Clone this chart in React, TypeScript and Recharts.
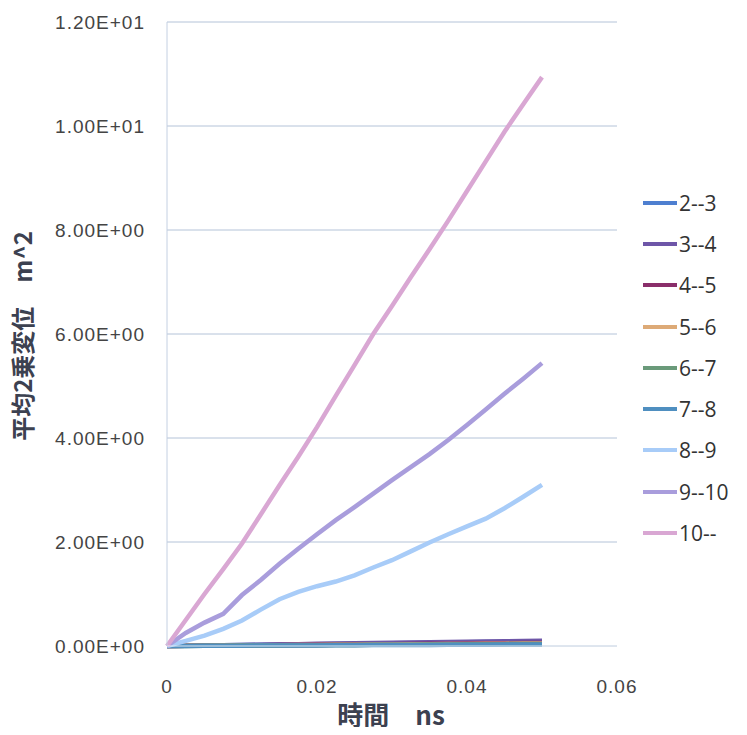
import { CartesianGrid, Label, Legend, Line, LineChart, XAxis, YAxis } from "recharts";

// time in ns
const times = [
  0, 0.0025, 0.005, 0.0075, 0.01, 0.0125, 0.015, 0.0175, 0.02, 0.0225, 0.025,
  0.0275, 0.03, 0.0325, 0.035, 0.0375, 0.04, 0.0425, 0.045, 0.0475, 0.05,
];

// mean square displacement per layer, m^2
const s2to3 = [0, 0.005, 0.01, 0.014, 0.018, 0.023, 0.027, 0.031, 0.036, 0.04, 0.045, 0.049, 0.053, 0.058, 0.062, 0.066, 0.071, 0.075, 0.079, 0.084, 0.088];
const s3to4 = [0, 0.006, 0.011, 0.016, 0.021, 0.026, 0.031, 0.036, 0.041, 0.046, 0.051, 0.056, 0.061, 0.066, 0.071, 0.076, 0.081, 0.086, 0.091, 0.096, 0.101];
const s4to5 = [0, 0.003, 0.006, 0.009, 0.012, 0.015, 0.018, 0.021, 0.024, 0.027, 0.03, 0.033, 0.036, 0.039, 0.042, 0.045, 0.048, 0.051, 0.054, 0.057, 0.06];
const s5to6 = [0, 0.003, 0.005, 0.008, 0.01, 0.013, 0.015, 0.018, 0.02, 0.023, 0.025, 0.028, 0.03, 0.033, 0.035, 0.038, 0.04, 0.043, 0.045, 0.048, 0.05];
const s6to7 = [0, 0.002, 0.004, 0.006, 0.008, 0.01, 0.012, 0.014, 0.016, 0.018, 0.02, 0.022, 0.024, 0.026, 0.028, 0.03, 0.032, 0.034, 0.036, 0.038, 0.04];
const s7to8 = [0, 0.002, 0.003, 0.005, 0.006, 0.008, 0.009, 0.011, 0.012, 0.014, 0.015, 0.017, 0.018, 0.02, 0.021, 0.023, 0.024, 0.026, 0.027, 0.029, 0.03];
const s8to9 = [0, 0.1, 0.2, 0.33, 0.49, 0.7, 0.9, 1.04, 1.15, 1.24, 1.36, 1.51, 1.65, 1.82, 1.99, 2.15, 2.3, 2.45, 2.65, 2.87, 3.1];
const s9to10 = [0, 0.25, 0.45, 0.62, 0.98, 1.27, 1.58, 1.87, 2.15, 2.42, 2.67, 2.93, 3.19, 3.44, 3.69, 3.96, 4.25, 4.55, 4.85, 5.14, 5.44];
const s10 = [0, 0.5, 1.0, 1.48, 1.97, 2.53, 3.09, 3.64, 4.21, 4.81, 5.4, 6.0, 6.54, 7.09, 7.63, 8.18, 8.75, 9.32, 9.89, 10.42, 10.94];

const xTicks = [0, 0.02, 0.04, 0.06];
const yTicks = [0, 2, 4, 6, 8, 10, 12];

const series = [
  { key: "2--3", values: s2to3, color: "#4E7FD0" },
  { key: "3--4", values: s3to4, color: "#6E56A8" },
  { key: "4--5", values: s4to5, color: "#8A2E6A" },
  { key: "5--6", values: s5to6, color: "#DDAA77" },
  { key: "6--7", values: s6to7, color: "#6A9A7A" },
  { key: "7--8", values: s7to8, color: "#4F8FC0" },
  { key: "8--9", values: s8to9, color: "#A8CCF8" },
  { key: "9--10", values: s9to10, color: "#A99DDC" },
  { key: "10--", values: s10, color: "#D9A7D3" },
];

const data = times.map((t, i) => {
  const row: Record<string, number> = { t };
  series.forEach((s) => (row[s.key] = s.values[i]));
  return row;
});

const sci = (v: number) => {
  const [m, e] = v.toExponential(2).split("e");
  const n = Number(e);
  return `${m}E${n < 0 ? "-" : "+"}${String(Math.abs(n)).padStart(2, "0")}`;
};

const tickStyle = { fill: "#444", fontSize: 19, fontFamily: "Liberation Sans, Arial", letterSpacing: 1 };
const titleFont = { fill: "#3c4150", fontWeight: 700, fontFamily: "Noto Sans CJK JP, Noto Sans" };

function LegendBox() {
  return (
    <div style={{ fontFamily: "Open Sans, Noto Sans", fontSize: 21, color: "#333" }}>
      {series.map((s) => (
        <div key={s.key} style={{ height: 41.3, display: "flex", alignItems: "center" }}>
          <span style={{ display: "inline-block", width: 34, height: 4, background: s.color, marginRight: 2 }} />
          <span>{s.key}</span>
        </div>
      ))}
    </div>
  );
}

export default function App() {
  return (
    <div style={{ margin: -8, width: 747, height: 735, background: "#fff" }}>
      <LineChart width={747} height={735} data={data} margin={{ top: 22, right: 130, bottom: 0, left: 0 }}>
        <CartesianGrid vertical={false} stroke="#b4c3d8" />
        <XAxis
          dataKey="t"
          type="number"
          domain={[0, 0.06]}
          ticks={xTicks}
          height={89}
          tickLine={false}
          tickSize={0}
          tickMargin={34}
          stroke="#e4eaf2"
          tick={tickStyle}
        >
          <Label
            content={({ viewBox }: any) => (
              <text x={viewBox.x + 224} y={725} textAnchor="middle" style={{ ...titleFont, fontSize: 26 }}>
                時間　ns
              </text>
            )}
          />
        </XAxis>
        <YAxis
          type="number"
          domain={[0, 12]}
          ticks={yTicks}
          width={167}
          tickLine={false}
          tickSize={0}
          tickMargin={22}
          stroke="#c4d0e2"
          tickFormatter={sci}
          tick={tickStyle}
        >
          <Label
            content={({ viewBox }: any) => {
              const cx = 32;
              const cy = viewBox.y + viewBox.height / 2 + 2;
              return (
                <text x={cx} y={cy} textAnchor="middle" transform={`rotate(-90 ${cx} ${cy})`} style={{ ...titleFont, fontSize: 24 }}>
                  平均2乗変位　m^2
                </text>
              );
            }}
          />
        </YAxis>
        <Legend
          layout="vertical"
          align="center"
          verticalAlign="middle"
          wrapperStyle={{ left: 643, top: 182, width: 104 }}
          content={() => <LegendBox />}
        />
        {series.map((s) => (
          <Line
            key={s.key}
            dataKey={s.key}
            stroke={s.color}
            strokeWidth={4.5}
            dot={false}
            type="linear"
            isAnimationActive={false}
          />
        ))}
      </LineChart>
    </div>
  );
}
